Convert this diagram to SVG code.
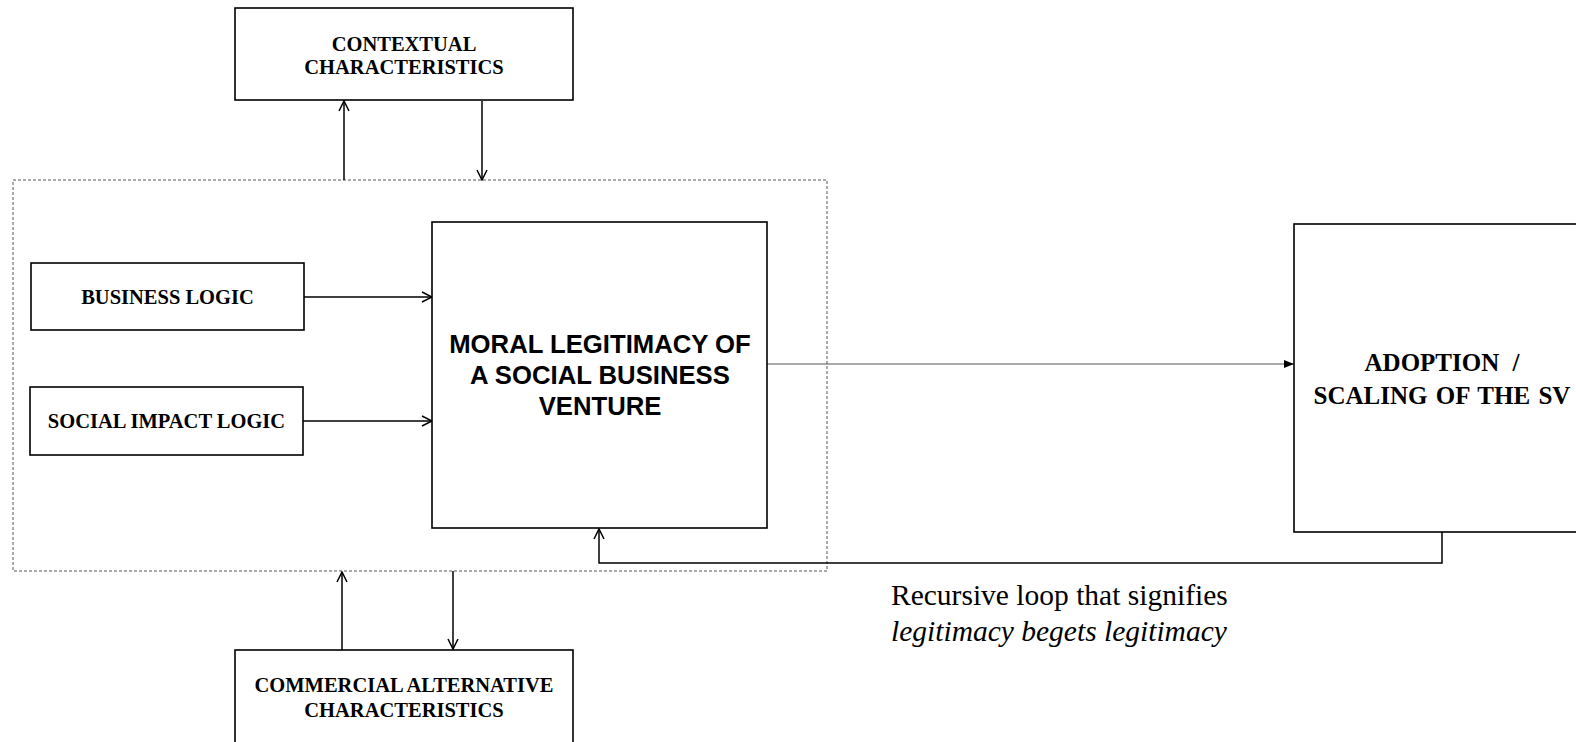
<svg xmlns="http://www.w3.org/2000/svg" width="1576" height="742" viewBox="0 0 1576 742">
<style>
.box{fill:#fff;stroke:#000;stroke-width:1.6}
.tb{font-family:"Liberation Serif","Times New Roman",serif;font-weight:bold;fill:#000;text-anchor:middle}
.ta{font-family:"Liberation Sans",Arial,sans-serif;font-weight:bold;fill:#000;text-anchor:middle}
.tr{font-family:"Liberation Serif","Times New Roman",serif;fill:#000}
.ln{fill:none;stroke:#000;stroke-width:1.5}
</style>
<defs>
<marker id="open" viewBox="0 0 12 12" refX="11" refY="6" markerWidth="12" markerHeight="12" markerUnits="userSpaceOnUse" orient="auto">
<path d="M1,1 L11,6 L1,11" fill="none" stroke="#000" stroke-width="1.5"/>
</marker>
<marker id="fill" viewBox="0 0 10 10" refX="10" refY="5" markerWidth="10" markerHeight="10" markerUnits="userSpaceOnUse" orient="auto">
<path d="M0,1 L10,5 L0,9 Z" fill="#000"/>
</marker>
</defs>
<rect x="0" y="0" width="1576" height="742" fill="#fff"/>
<g id="boundary">
<rect x="13" y="180" width="814" height="391" fill="none" stroke="#555" stroke-width="1" stroke-dasharray="3,2"/>
</g>
<g id="connectors">
<line class="ln" x1="344" y1="180" x2="344" y2="101" marker-end="url(#open)"/>
<line class="ln" x1="482" y1="101" x2="482" y2="180" marker-end="url(#open)"/>
<line class="ln" x1="304" y1="297" x2="432" y2="297" marker-end="url(#open)"/>
<line class="ln" x1="303" y1="421" x2="432" y2="421" marker-end="url(#open)"/>
<line x1="767" y1="364" x2="1294" y2="364" stroke="#555" stroke-width="1.2" marker-end="url(#fill)"/>
<polyline class="ln" points="1442,532 1442,563 599,563 599,529" marker-end="url(#open)"/>
<line class="ln" x1="342" y1="650" x2="342" y2="572" marker-end="url(#open)"/>
<line class="ln" x1="453" y1="571" x2="453" y2="649" marker-end="url(#open)"/>
</g>
<g id="contextual">
<rect class="box" x="235" y="8" width="338" height="92"/>
<text class="tb" font-size="20.5" x="404" y="51">CONTEXTUAL</text>
<text class="tb" font-size="20.5" x="404" y="74">CHARACTERISTICS</text>
</g>
<g id="business">
<rect class="box" x="31" y="263" width="273" height="67"/>
<text class="tb" font-size="20.5" x="167.5" y="304">BUSINESS LOGIC</text>
</g>
<g id="social">
<rect class="box" x="30" y="387" width="273" height="68"/>
<text class="tb" font-size="20.5" x="166.5" y="428">SOCIAL IMPACT LOGIC</text>
</g>
<g id="moral">
<rect class="box" x="432" y="222" width="335" height="306"/>
<text class="ta" font-size="25.7" x="600" y="353">MORAL LEGITIMACY OF</text>
<text class="ta" font-size="25.7" x="600" y="384">A SOCIAL BUSINESS</text>
<text class="ta" font-size="25.7" x="600" y="415">VENTURE</text>
</g>
<g id="adoption">
<rect class="box" x="1294" y="224" width="300" height="308"/>
<text class="tb" font-size="25" x="1442" y="371" word-spacing="7">ADOPTION /</text>
<text class="tb" font-size="25" x="1442" y="404" word-spacing="2">SCALING OF THE SV</text>
</g>
<g id="commercial">
<rect class="box" x="235" y="650" width="338" height="100"/>
<text class="tb" font-size="20.5" x="404" y="692">COMMERCIAL ALTERNATIVE</text>
<text class="tb" font-size="20.5" x="404" y="717">CHARACTERISTICS</text>
</g>
<g id="loop-label">
<text class="tr" font-size="29.5" x="891" y="605">Recursive loop that signifies</text>
<text class="tr" font-size="29.5" x="891" y="641" font-style="italic">legitimacy begets legitimacy</text>
</g>
</svg>
